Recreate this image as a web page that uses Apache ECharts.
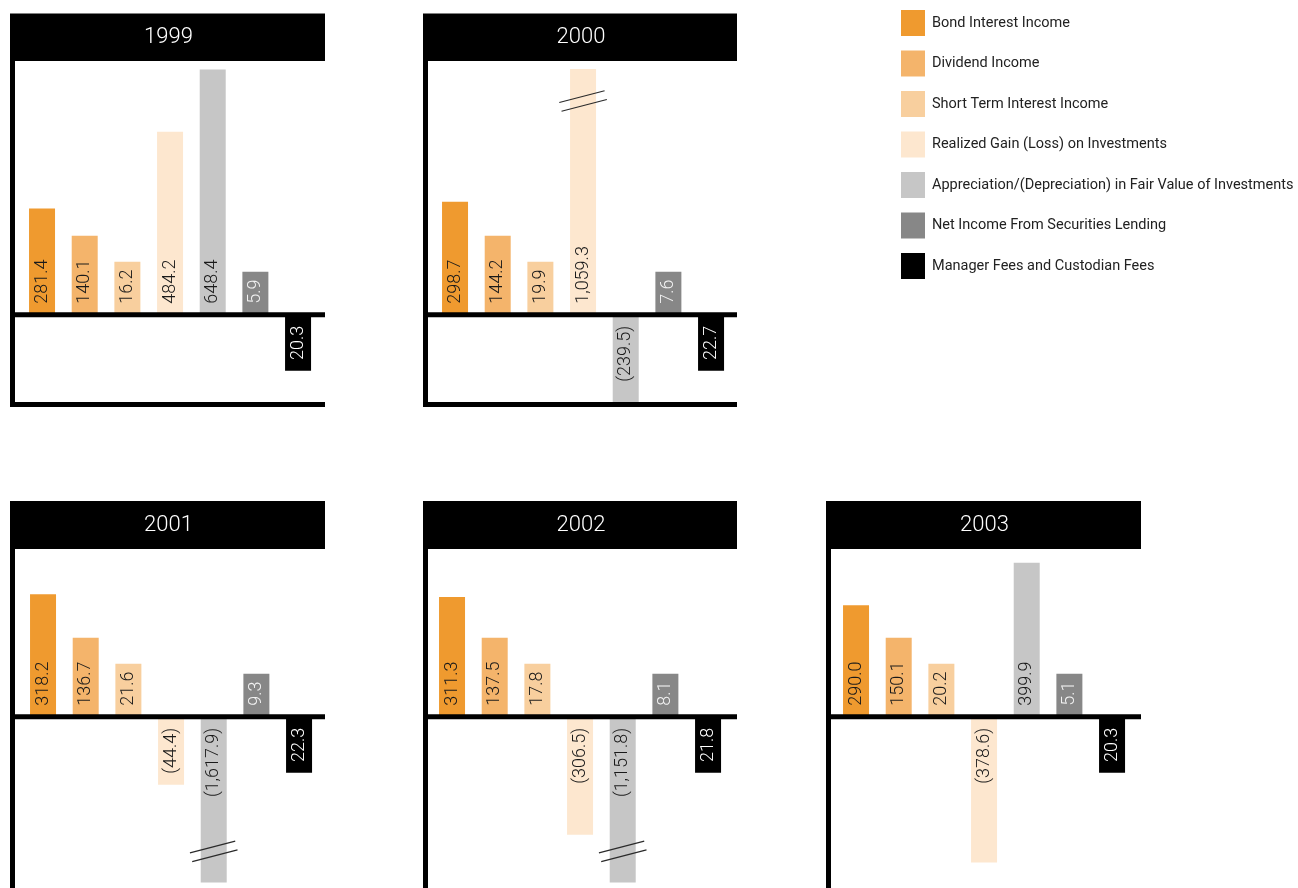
<!DOCTYPE html>
<html>
<head>
<meta charset="utf-8">
<title>Investment Income 1999–2003</title>
<script src="https://cdn.jsdelivr.net/npm/echarts@6/dist/echarts.min.js"></script>
<style>
  html, body { margin: 0; padding: 0; background: #ffffff; }
  #chart { width: 1298px; height: 888px; }
</style>
</head>
<body>
<div id="chart"></div>
<script>
// ---- Data (millions) ----
const years = ['1999', '2000', '2001', '2002', '2003'];
const categories = [
  'Bond Interest Income',
  'Dividend Income',
  'Short Term Interest Income',
  'Realized Gain (Loss) on Investments',
  'Appreciation/(Depreciation) in Fair Value of Investments',
  'Net Income From Securities Lending',
  'Manager Fees and Custodian Fees'
];
const bondInterest      = [281.4, 298.7, 318.2, 311.3, 290.0];
const dividendIncome    = [140.1, 144.2, 136.7, 137.5, 150.1];
const shortTermInterest = [16.2, 19.9, 21.6, 17.8, 20.2];
const realizedGain      = [484.2, 1059.3, -44.4, -306.5, -378.6];
const appreciation      = [648.4, -239.5, -1617.9, -1151.8, 399.9];
const securitiesLending = [5.9, 7.6, 9.3, 8.1, 5.1];
const managerFees       = [20.3, 22.7, 22.3, 21.8, 20.3];   // deductions, drawn below zero

// ---- Styling ----
const colors      = ['#EF9A2F', '#F4B46B', '#F8CF9E', '#FDE7CF', '#C6C6C6', '#878787', '#000000'];
const labelColors = ['#1a1a1a', '#1a1a1a', '#1a1a1a', '#1a1a1a', '#1a1a1a', '#f2f2f2', '#ffffff'];
// minimum bar length (px) per category so every rotated label fits inside its bar
const minBarPx    = [0, 79, 53, 68, 0, 43, 56];

const isDeduction = [false, false, false, false, false, false, true];
const rawValues = [bondInterest, dividendIncome, shortTermInterest, realizedGain,
                   appreciation, securitiesLending, managerFees];
const plotted = rawValues.map((arr, c) => arr.map(v => isDeduction[c] ? -v : v));

function fmt(v) {
  return Math.abs(v).toLocaleString('en-US', { minimumFractionDigits: 1, maximumFractionDigits: 1 });
}
function labelText(c, p) {
  const v = rawValues[c][p];
  return v < 0 ? '(' + fmt(v) + ')' : fmt(v);
}

// ---- Panel layout ----
const BAND = 42.67;
const rows = [
  { titleTop: 13.5, titleBottom: 61, gridTop: 69, gridHeight: 338.45, min: -245, max: 650, frameBottom: 407, bottomLine: true },
  { titleTop: 501, titleBottom: 549, gridTop: 557, gridHeight: 325.4, min: -430, max: 415, frameBottom: 888, bottomLine: false }
];
const panels = [
  { x0: 10,  x1: 325,  gridLeft: 20.7,  row: 0 },
  { x0: 423, x1: 737,  gridLeft: 433.7, row: 0 },
  { x0: 10,  x1: 325,  gridLeft: 21.7,  row: 1 },
  { x0: 423, x1: 737,  gridLeft: 430.7, row: 1 },
  { x0: 826, x1: 1141, gridLeft: 834.7, row: 1 }
];

const grids = [], xAxes = [], yAxes = [], series = [];
panels.forEach((pn, p) => {
  const r = rows[pn.row];
  grids.push({ left: pn.gridLeft, top: r.gridTop, width: BAND * 7, height: r.gridHeight, containLabel: false });
  xAxes.push({
    type: 'category', gridIndex: p, data: categories,
    axisLine: { show: false }, axisTick: { show: false }, axisLabel: { show: false }, splitLine: { show: false }
  });
  yAxes.push({
    type: 'value', gridIndex: p, min: r.min, max: r.max,
    axisLine: { show: false }, axisTick: { show: false }, axisLabel: { show: false }, splitLine: { show: false }
  });
  categories.forEach((name, c) => {
    const v = plotted[c][p];
    const neg = v < 0;
    series.push({
      type: 'bar', name: name, xAxisIndex: p, yAxisIndex: p,
      barWidth: 26, barGap: '-100%', barMinHeight: minBarPx[c],
      itemStyle: { color: colors[c] },
      label: {
        show: true, rotate: 90,
        position: neg ? 'insideTop' : 'insideBottom',
        distance: 11,
        align: neg ? 'right' : 'left', verticalAlign: 'middle',
        fontFamily: 'Roboto', fontWeight: 300, fontSize: 18,
        color: labelColors[c],
        formatter: () => labelText(c, p)
      },
      data: categories.map((_, i) => i === c ? v : '-')
    });
  });
});

const chart = echarts.init(document.getElementById('chart'), null, { renderer: 'canvas' });
chart.setOption({
  animation: false,
  backgroundColor: '#ffffff',
  legend: {
    orient: 'vertical', left: 901, top: 10, padding: 0,
    itemWidth: 24, itemHeight: 26, itemGap: 14.5,
    icon: 'rect', selectedMode: false,
    data: categories,
    textStyle: { fontFamily: 'Roboto', fontSize: 14.5, color: '#222222', padding: [0, 0, 0, 2] }
  },
  grid: grids,
  xAxis: xAxes,
  yAxis: yAxes,
  series: series
});

// ---- Panel frames, titles and axis-break marks ----
const elements = [];
const dir = [Math.cos(-14.5 * Math.PI / 180), Math.sin(-14.5 * Math.PI / 180)];
const nrm = [-dir[1], dir[0]];
panels.forEach((pn, p) => {
  const r = rows[pn.row];
  const w = pn.x1 - pn.x0;
  const zeroY = chart.convertToPixel({ gridIndex: p }, [0, 0])[1];
  elements.push({ type: 'rect', z: 100, shape: { x: pn.x0, y: r.titleTop, width: w, height: r.titleBottom - r.titleTop }, style: { fill: '#000' } });
  elements.push({
    type: 'text', z: 101, x: (pn.x0 + pn.x1) / 2 + 1, y: (r.titleTop + r.titleBottom) / 2,
    style: { text: years[p], fill: '#ffffff', font: '300 22px Roboto', align: 'center', verticalAlign: 'middle', textAlign: 'center', textVerticalAlign: 'middle' }
  });
  elements.push({ type: 'rect', z: 100, shape: { x: pn.x0, y: r.titleBottom, width: 5, height: r.frameBottom - r.titleBottom }, style: { fill: '#000' } });
  elements.push({ type: 'rect', z: 100, shape: { x: pn.x0, y: zeroY - 2.5, width: w, height: 5 }, style: { fill: '#000' } });
  if (r.bottomLine) {
    elements.push({ type: 'rect', z: 100, shape: { x: pn.x0, y: r.frameBottom - 5, width: w, height: 5 }, style: { fill: '#000' } });
  }
  categories.forEach((_, c) => {
    const v = plotted[c][p];
    if (v > r.max || v < r.min) {
      const edge = chart.convertToPixel({ gridIndex: p }, [c, v > 0 ? r.max : r.min]);
      const cx = edge[0], cy = edge[1] + (v > 0 ? 32 : -31);
      [-4.5, 4.5].forEach(off => {
        const mx = cx + off * nrm[0], my = cy + off * nrm[1];
        elements.push({
          type: 'line', z: 102,
          shape: { x1: mx - 23.4 * dir[0], y1: my - 23.4 * dir[1], x2: mx + 23.4 * dir[0], y2: my + 23.4 * dir[1] },
          style: { stroke: '#2a2a2a', lineWidth: 1.2 }
        });
      });
    }
  });
});
chart.setOption({ graphic: { elements: elements } });
</script>
</body>
</html>
